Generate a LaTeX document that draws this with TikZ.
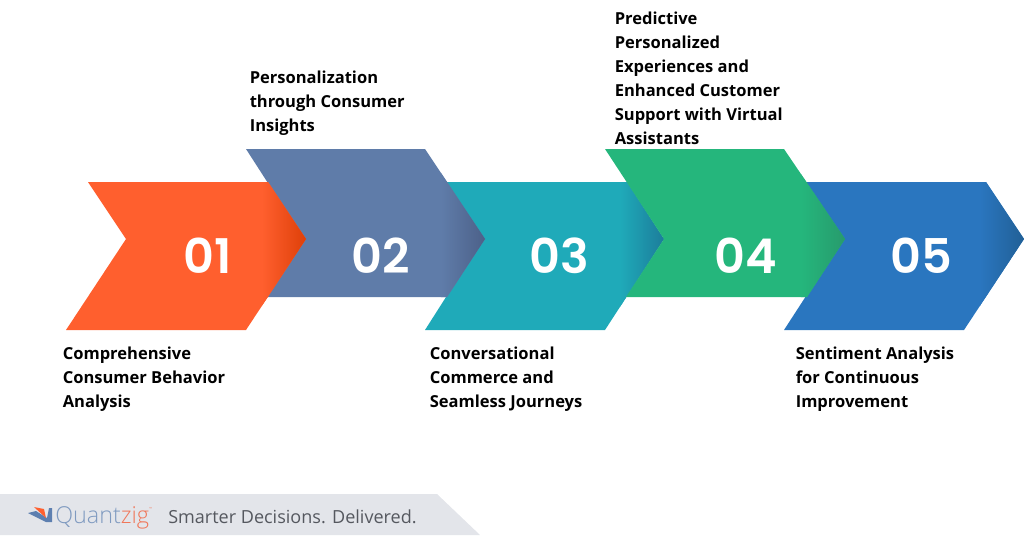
\documentclass[tikz,border=0pt]{standalone}
\usepackage{xcolor}
\usepackage{fontspec}
\setmainfont{Open Sans}
\newfontfamily\numfont{Poppins SemiBold}
\newfontfamily\logofont{Open Sans Light}
\usepackage{tikz}
\usetikzlibrary{positioning}

\definecolor{orangeArrow}{HTML}{FF5F2E}
\definecolor{orangeTip}{HTML}{DD3F08}
\definecolor{slateArrow}{HTML}{5F7CA9}
\definecolor{slateTip}{HTML}{4C6088}
\definecolor{tealArrow}{HTML}{1FAAB9}
\definecolor{tealTip}{HTML}{1C7C9A}
\definecolor{greenArrow}{HTML}{25B67C}
\definecolor{greenTip}{HTML}{279A6C}
\definecolor{blueArrow}{HTML}{2A76BF}
\definecolor{blueTip}{HTML}{215F95}
\definecolor{footerGray}{HTML}{E3E5EA}
\definecolor{footerText}{HTML}{55585F}
\definecolor{quantBlue}{HTML}{7F9AC0}
\definecolor{bookBlue}{HTML}{5D7FB0}
\definecolor{zigOrange}{HTML}{F0775A}

% fill colour, tip colour, x of the tip, outline
\newcommand{\arrowbody}[4]{
  \fill[#1] #4;
  \begin{scope}
    \clip #4;
    \shade[left color=#1, right color=#2] (#3-44,100) rectangle (#3+1,400);
  \end{scope}
}

\begin{document}
\begin{tikzpicture}[
    x=0.025cm, y=-0.025cm,
    number/.style={text=white, font=\numfont\fontsize{34}{36}\selectfont, anchor=base},
    caption/.style={anchor=north west, align=left, inner sep=0pt, font=\fontsize{11.75}{17.07}\selectfont\bfseries, text=black}
]
\useasboundingbox (0,0) rectangle (1024,539);

% Arrows
\arrowbody{tealArrow}{tealTip}{664}{(445,182) -- (627,182) -- (664,239) -- (605,330) -- (425,330) -- (483,239) -- cycle}
\arrowbody{blueArrow}{blueTip}{1024}{(805,182) -- (986,182) -- (1024,239) -- (964,330) -- (784,330) -- (843,239) -- cycle}
\arrowbody{slateArrow}{slateTip}{485}{(246,149) -- (425,149) -- (485,239) -- (447,297) -- (266,297) -- (304,239) -- cycle}
\arrowbody{orangeArrow}{orangeTip}{306}{(88,182) -- (268,182) -- (306,239) -- (246,330) -- (66,330) -- (126,239) -- cycle}
\arrowbody{greenArrow}{greenTip}{845}{(605,149) -- (784,149) -- (845,239) -- (807,297) -- (626,297) -- (664,239) -- cycle}

% Numbers
\node[number] (num1) at (207.5,273) {01};
\node[number] (num2) at (380.5,273) {02};
\node[number] (num3) at (559.5,273) {03};
\node[number] (num4) at (745.5,273) {04};
\node[number] (num5) at (921.5,273) {05};

% Captions
\node[caption] (text1) at (62.5,347) {Comprehensive\\Consumer Behavior\\Analysis};
\node[caption] (text2) at (249.5,71) {Personalization\\through Consumer\\Insights};
\node[caption] (text3) at (429.5,347) {Conversational\\Commerce and\\Seamless Journeys};
\node[caption] (text4) at (614.5,11.5) {Predictive\\Personalized\\Experiences and\\Enhanced Customer\\Support with Virtual\\Assistants};
\node[caption] (text5) at (795.5,347) {Sentiment Analysis\\for Continuous\\Improvement};

% Footer
\fill[footerGray] (0,494) -- (437,494) -- (480,535) -- (0,535) -- cycle;
\fill[bookBlue] (28,513) -- (36,511) -- (47,518) -- (49,508) -- (52,508) -- (52,522) -- (46,522) -- cycle;
\fill[orangeArrow] (34,507) -- (44,509) -- (46,518) -- cycle;
\node[anchor=base west, inner sep=0pt, font=\logofont\fontsize{16.6}{16}\selectfont, text=quantBlue] (logo) at (55,523) {Quant{\color{zigOrange}zig\raisebox{0.55em}{\fontsize{3}{3}\selectfont ™}}};
\node[anchor=base west, inner sep=0pt, font=\fontsize{12.83}{14}\selectfont, text=footerText] (slogan) at (168,523) {Smarter Decisions. Delivered.};

\end{tikzpicture}
\end{document}
